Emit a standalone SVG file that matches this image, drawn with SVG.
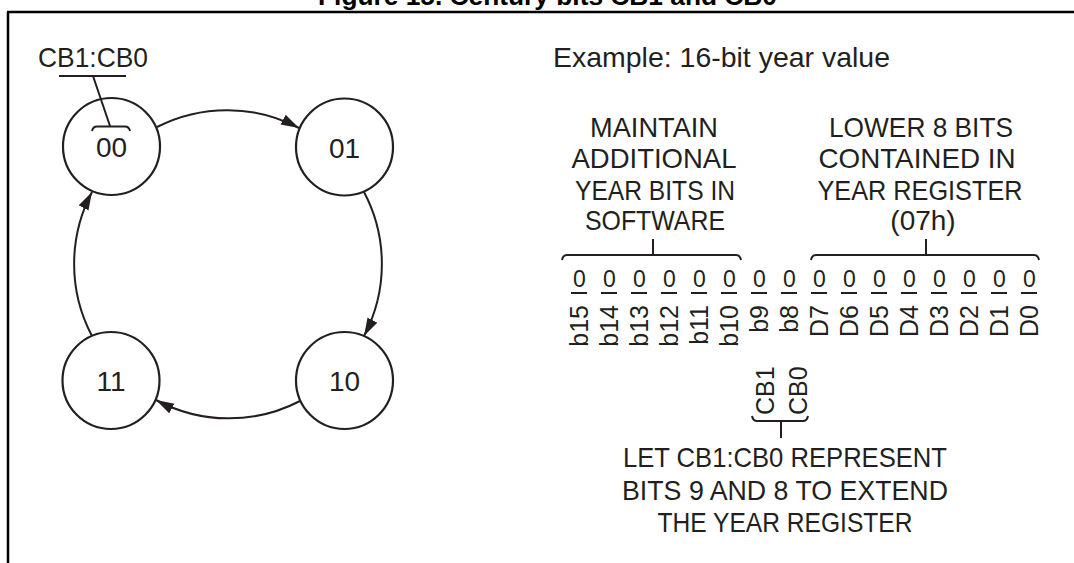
<svg xmlns="http://www.w3.org/2000/svg" width="1074" height="563" viewBox="0 0 1074 563">
<defs>
<style>
.t{font-family:"Liberation Sans",Arial,sans-serif;fill:#231f20;}
.ln{fill:none;stroke:#231f20;stroke-width:2;}
.node{fill:#fff;stroke:#231f20;stroke-width:2.2;}
.nl{font-family:"Liberation Sans",Arial,sans-serif;fill:#231f20;font-size:28px;text-anchor:middle;}
.big{font-size:28px;text-anchor:middle;}
.bit{font-size:23px;text-anchor:middle;}
.lab{font-size:25px;text-anchor:end;}
.cb{font-size:25px;text-anchor:start;}
</style>
<marker id="ah" markerUnits="userSpaceOnUse" markerWidth="20" markerHeight="12" refX="18" refY="5.5" orient="auto">
<path d="M0,0 L18,5.5 L0,11 z" fill="#231f20"/>
</marker>
</defs>
<rect width="1074" height="563" fill="#fff"/>
<text x="318" y="5" style="font-family:'Liberation Sans',Arial,sans-serif;font-weight:bold;font-size:26px;fill:#000" textLength="459" lengthAdjust="spacingAndGlyphs">Figure 15. Century bits CB1 and CB0</text>
<path d="M7,12 H1074 M8,12 V563" fill="none" stroke="#000" stroke-width="2.5"/>

<g id="connectors">
<path class="ln" d="M157,127 A154,154 0 0 1 299,128" marker-end="url(#ah)"/>
<path class="ln" d="M364,192 A154,154 0 0 1 364,336" marker-end="url(#ah)"/>
<path class="ln" d="M300,401 A154,154 0 0 1 156,400" marker-end="url(#ah)"/>
<path class="ln" d="M92,336 A154,154 0 0 1 92,192" marker-end="url(#ah)"/>
</g>

<g id="node-00">
<circle class="node" cx="111.5" cy="146.5" r="48.5"/>
<text class="nl" x="111.5" y="157">00</text>
</g>
<g id="node-01">
<circle class="node" cx="344.5" cy="147" r="48.5"/>
<text class="nl" x="344.5" y="157.5">01</text>
</g>
<g id="node-10">
<circle class="node" cx="344.5" cy="380.5" r="48.5"/>
<text class="nl" x="344.5" y="391">10</text>
</g>
<g id="node-11">
<circle class="node" cx="111" cy="380.5" r="48.5"/>
<text class="nl" x="111" y="391">11</text>
</g>

<g id="cb-label">
<text class="t" x="38" y="67" font-size="28" textLength="110" lengthAdjust="spacingAndGlyphs">CB1:CB0</text>
<path class="ln" d="M59,76 H126 M93,76 L110,126 M92,131 Q93,126.5 97,126.5 H125 Q129,126.5 130,131"/>
</g>

<g id="example">
<text class="t" x="553" y="67" font-size="28" textLength="337" lengthAdjust="spacingAndGlyphs">Example: 16-bit year value</text>
</g>

<g id="software-note" class="t big">
<text x="654" y="137" textLength="128" lengthAdjust="spacingAndGlyphs">MAINTAIN</text>
<text x="654" y="168" textLength="165" lengthAdjust="spacingAndGlyphs">ADDITIONAL</text>
<text x="655" y="200" textLength="160" lengthAdjust="spacingAndGlyphs">YEAR BITS IN</text>
<text x="655" y="230" textLength="140" lengthAdjust="spacingAndGlyphs">SOFTWARE</text>
</g>
<g id="register-note" class="t big">
<text x="921" y="137" textLength="184" lengthAdjust="spacingAndGlyphs">LOWER 8 BITS</text>
<text x="917" y="168" textLength="197" lengthAdjust="spacingAndGlyphs">CONTAINED IN</text>
<text x="920" y="200" textLength="205" lengthAdjust="spacingAndGlyphs">YEAR REGISTER</text>
<text x="923" y="230">(07h)</text>
</g>

<g id="braces">
<path class="ln" d="M562,260 Q563,255 567,255 H736 Q740,255 741,260 M653,255 V239"/>
<path class="ln" d="M811,260 Q812,255 816,255 H1034 Q1038,255 1039,260 M926,255 V239"/>
<path class="ln" d="M752,416 Q753,421 757,421 H803 Q807,421 808,416 M781,421 V438"/>
</g>

<g id="bits" class="t">
<g class="bit">
<text x="579.3" y="287">0</text><text x="609.3" y="287">0</text><text x="639.3" y="287">0</text><text x="669.3" y="287">0</text>
<text x="699.3" y="287">0</text><text x="729.3" y="287">0</text><text x="759.3" y="287">0</text><text x="789.3" y="287">0</text>
<text x="819.3" y="287">0</text><text x="849.3" y="287">0</text><text x="879.3" y="287">0</text><text x="909.3" y="287">0</text>
<text x="939.3" y="287">0</text><text x="969.3" y="287">0</text><text x="999.3" y="287">0</text><text x="1029.3" y="287">0</text>
</g>
<path class="ln" d="M571,293 h16 M601,293 h16 M631,293 h16 M661,293 h16 M691,293 h16 M721,293 h16 M751,293 h16 M781,293 h16 M811,293 h16 M841,293 h16 M871,293 h16 M901,293 h16 M931,293 h16 M961,293 h16 M991,293 h16 M1021,293 h16"/>
<g class="lab">
<text transform="translate(588,305) rotate(-90)">b15</text>
<text transform="translate(618,305) rotate(-90)">b14</text>
<text transform="translate(648,305) rotate(-90)">b13</text>
<text transform="translate(678,305) rotate(-90)">b12</text>
<text transform="translate(708,305) rotate(-90)">b11</text>
<text transform="translate(738,305) rotate(-90)">b10</text>
<text transform="translate(768,305) rotate(-90)">b9</text>
<text transform="translate(798,305) rotate(-90)">b8</text>
<text transform="translate(828,305) rotate(-90)">D7</text>
<text transform="translate(858,305) rotate(-90)">D6</text>
<text transform="translate(888,305) rotate(-90)">D5</text>
<text transform="translate(918,305) rotate(-90)">D4</text>
<text transform="translate(948,305) rotate(-90)">D3</text>
<text transform="translate(978,305) rotate(-90)">D2</text>
<text transform="translate(1008,305) rotate(-90)">D1</text>
<text transform="translate(1038,305) rotate(-90)">D0</text>
</g>
<g class="cb">
<text transform="translate(774,415) rotate(-90)">CB1</text>
<text transform="translate(807,415) rotate(-90)">CB0</text>
</g>
</g>

<g id="cb-note" class="t big">
<text x="785" y="467" textLength="324" lengthAdjust="spacingAndGlyphs">LET CB1:CB0 REPRESENT</text>
<text x="785" y="500" textLength="326" lengthAdjust="spacingAndGlyphs">BITS 9 AND 8 TO EXTEND</text>
<text x="785" y="532" textLength="255" lengthAdjust="spacingAndGlyphs">THE YEAR REGISTER</text>
</g>
</svg>
